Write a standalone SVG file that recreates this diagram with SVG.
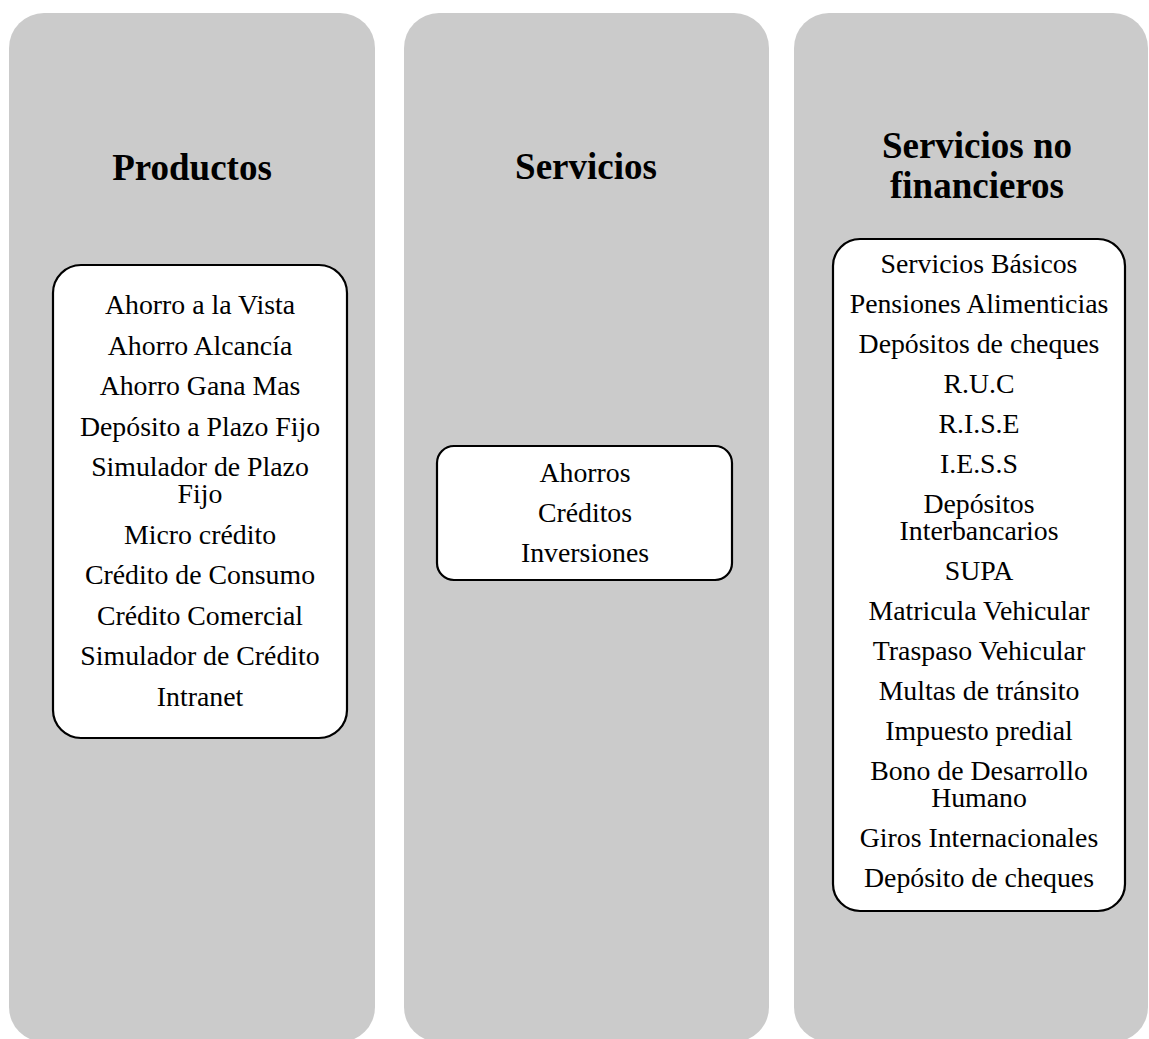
<svg xmlns="http://www.w3.org/2000/svg" width="1149" height="1039" viewBox="0 0 1149 1039">
  <style>
    .col { fill: #cbcbcb; }
    .box { fill: #ffffff; stroke: #000000; stroke-width: 2.2; }
    .title { font-family: "Liberation Serif", "Times New Roman", serif; font-weight: bold; font-size: 37px; fill: #000000; text-anchor: middle; }
    .item { font-family: "Liberation Serif", "Times New Roman", serif; font-size: 27.8px; fill: #000000; text-anchor: middle; }
  </style>
  <rect width="1149" height="1039" fill="#ffffff"/>

  <!-- Column 1: Productos -->
  <g id="productos">
    <rect class="col" x="9" y="13" width="366" height="1029" rx="35" ry="35"/>
    <text class="title" x="192" y="180">Productos</text>
    <rect class="box" x="53" y="265" width="294" height="473" rx="28" ry="28"/>
    <text class="item" x="200" y="314">Ahorro a la Vista</text>
    <text class="item" x="200" y="354.5">Ahorro Alcancía</text>
    <text class="item" x="200" y="395">Ahorro Gana Mas</text>
    <text class="item" x="200" y="435.5">Depósito a Plazo Fijo</text>
    <text class="item" x="200" y="476">Simulador de Plazo</text>
    <text class="item" x="200" y="503">Fijo</text>
    <text class="item" x="200" y="543.5">Micro crédito</text>
    <text class="item" x="200" y="584">Crédito de Consumo</text>
    <text class="item" x="200" y="624.5">Crédito Comercial</text>
    <text class="item" x="200" y="665">Simulador de Crédito</text>
    <text class="item" x="200" y="705.5">Intranet</text>
  </g>

  <!-- Column 2: Servicios -->
  <g id="servicios">
    <rect class="col" x="404" y="13" width="365" height="1029" rx="35" ry="35"/>
    <text class="title" x="586" y="179">Servicios</text>
    <rect class="box" x="437" y="446" width="295" height="134" rx="17" ry="17"/>
    <text class="item" x="585" y="482">Ahorros</text>
    <text class="item" x="585" y="522">Créditos</text>
    <text class="item" x="585" y="562">Inversiones</text>
  </g>

  <!-- Column 3: Servicios no financieros -->
  <g id="servicios-no-financieros">
    <rect class="col" x="794" y="13" width="354" height="1029" rx="35" ry="35"/>
    <text class="title" x="977" y="158">Servicios no</text>
    <text class="title" x="977" y="198">financieros</text>
    <rect class="box" x="833" y="239" width="292" height="672" rx="27" ry="27"/>
    <text class="item" x="979" y="273">Servicios Básicos</text>
    <text class="item" x="979" y="313">Pensiones Alimenticias</text>
    <text class="item" x="979" y="353">Depósitos de cheques</text>
    <text class="item" x="979" y="393">R.U.C</text>
    <text class="item" x="979" y="433">R.I.S.E</text>
    <text class="item" x="979" y="473">I.E.S.S</text>
    <text class="item" x="979" y="513">Depósitos</text>
    <text class="item" x="979" y="540">Interbancarios</text>
    <text class="item" x="979" y="580">SUPA</text>
    <text class="item" x="979" y="620">Matricula Vehicular</text>
    <text class="item" x="979" y="660">Traspaso Vehicular</text>
    <text class="item" x="979" y="700">Multas de tránsito</text>
    <text class="item" x="979" y="740">Impuesto predial</text>
    <text class="item" x="979" y="780">Bono de Desarrollo</text>
    <text class="item" x="979" y="807">Humano</text>
    <text class="item" x="979" y="847">Giros Internacionales</text>
    <text class="item" x="979" y="887">Depósito de cheques</text>
  </g>

  <!-- No connectors in this diagram -->
  <g id="connectors"/>
</svg>
